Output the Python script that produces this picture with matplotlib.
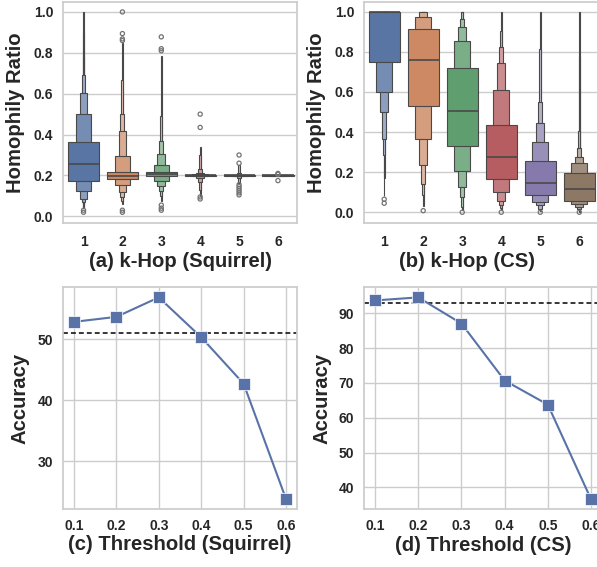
import numpy as np
import matplotlib
matplotlib.use("Agg")
import matplotlib.pyplot as plt
import matplotlib.colors as mcolors

# ---------------- data ----------------
hops = [1, 2, 3, 4, 5, 6]

# letter-value boxes, innermost (IQR) first
sq_lo = [
    [0.173, 0.122, 0.087, 0.072, 0.059, 0.048, 0.040],
    [0.184, 0.154, 0.117, 0.095, 0.077, 0.062],
    [0.198, 0.171, 0.147, 0.122, 0.098, 0.075],
    [0.198, 0.195, 0.190, 0.170, 0.130, 0.100],
    [0.1995, 0.199, 0.197, 0.190, 0.165],
    [0.1995, 0.199],
]
sq_hi = [
    [0.364, 0.501, 0.604, 0.690, 0.780, 0.900, 1.000],
    [0.219, 0.294, 0.416, 0.501, 0.669, 0.848],
    [0.215, 0.250, 0.307, 0.370, 0.490, 0.783],
    [0.203, 0.206, 0.210, 0.230, 0.300, 0.340],
    [0.2005, 0.201, 0.203, 0.210, 0.250],
    [0.2005, 0.201],
]
sq_med = [0.254, 0.198, 0.205, 0.200, 0.200, 0.200]
sq_out = [
    [0.030, 0.020],
    [1.000, 0.894, 0.868, 0.860, 0.030, 0.020],
    [0.878, 0.820, 0.810, 0.055, 0.040, 0.030],
    [0.500, 0.435, 0.095, 0.085],
    [0.300, 0.260, 0.155, 0.145, 0.135, 0.125, 0.115, 0.105],
    [0.210, 0.205, 0.175],
]

cs_lo = [
    [0.750, 0.600, 0.498, 0.365, 0.286, 0.170, 0.080],
    [0.528, 0.365, 0.237, 0.140, 0.085, 0.030],
    [0.331, 0.208, 0.128, 0.075, 0.028, 0.010],
    [0.167, 0.100, 0.058, 0.037, 0.020, 0.010],
    [0.088, 0.052, 0.034, 0.018, 0.010, 0.005],
    [0.055, 0.042, 0.028, 0.018, 0.010, 0.005, 0.003],
]
cs_hi = [
    [1.000, 1.000, 1.000, 1.000, 1.000, 1.000, 1.000],
    [0.915, 0.975, 1.000, 1.000, 1.000, 1.000],
    [0.717, 0.853, 0.925, 0.966, 1.000, 1.000],
    [0.435, 0.612, 0.742, 0.823, 0.903, 1.000],
    [0.255, 0.350, 0.445, 0.548, 0.815, 1.000],
    [0.195, 0.245, 0.275, 0.320, 0.403, 0.778, 1.000],
]
cs_med = [1.000, 0.757, 0.503, 0.275, 0.145, 0.115]
cs_out = [[0.065, 0.045], [0.008], [0.0], [0.0], [0.0], [0.0]]

thresholds = [0.1, 0.2, 0.3, 0.4, 0.5, 0.6]
acc_squirrel = [52.85, 53.67, 56.86, 50.33, 42.71, 23.8]
base_squirrel = 51.1
acc_cs = [93.66, 94.53, 87.03, 70.67, 63.75, 36.6]
base_cs = 92.8

box_colors = ["#5975A4", "#CC8963", "#5F9E6E", "#B55D60", "#857AAB", "#8D7866"]
line_color = "#5973A8"
EDGE = "#494949"

# ---------------- style ----------------
plt.rcParams.update({
    "font.family": ["Liberation Sans", "DejaVu Sans"],
    "font.weight": "bold",
    "axes.labelweight": "bold",
    "axes.edgecolor": "0.8",
    "axes.linewidth": 1.25,
    "grid.color": "0.8",
    "grid.linewidth": 1.0,
    "axes.axisbelow": True,
    "xtick.major.size": 0,
    "ytick.major.size": 0,
    "xtick.labelsize": 10,
    "ytick.labelsize": 10,
    "axes.labelsize": 14.6,
    "text.color": "0.15",
    "axes.labelcolor": "0.15",
    "xtick.color": "0.15",
    "ytick.color": "0.15",
})

W, H = 597, 567
fig = plt.figure(figsize=(W / 100, H / 100), dpi=100)


def px_axes(l, t, r, b):
    return fig.add_axes([l / W, 1 - b / H, (r - l) / W, (b - t) / H])


ax_a = px_axes(63.3, 1.7, 297.0, 222.7)
ax_b = px_axes(364.3, 1.7, 598.8, 222.7)
ax_c = px_axes(63.3, 287.3, 296.7, 509.3)
ax_d = px_axes(364.3, 287.3, 601.8, 509.3)


def draw_boxen(ax, lows, highs, meds, outs):
    white = np.array([0.96, 0.96, 0.97])
    for i in range(len(lows)):
        base = np.array(mcolors.to_rgb(box_colors[i]))
        light = 0.12 * base + 0.88 * white
        n = len(lows[i])
        for j in reversed(range(n)):
            t = 2 ** (-j / 3)
            c = light + (base - light) * t
            w = 0.8 * 2 ** (-j)
            ax.bar(i, highs[i][j] - lows[i][j], bottom=lows[i][j], width=w,
                   color=c, edgecolor=EDGE, linewidth=0.8, zorder=2)
        ax.plot([i - 0.4, i + 0.4], [meds[i], meds[i]], color=EDGE, lw=1.2,
                zorder=3, solid_capstyle="butt")
        ax.scatter([i] * len(outs[i]), outs[i], s=9, facecolor="none",
                   edgecolor="0.45", linewidth=0.9, zorder=3)
    ax.set_xticks(range(len(hops)))
    ax.set_xticklabels([str(h) for h in hops])
    ax.set_yticks([0.0, 0.2, 0.4, 0.6, 0.8, 1.0])
    ax.set_yticklabels(["0.0", "0.2", "0.4", "0.6", "0.8", "1.0"])
    ax.grid(axis="y")
    ax.grid(axis="x", visible=False)
    ax.tick_params(axis="x", pad=8.9)
    ax.tick_params(axis="y", pad=7.2)
    ax.set_ylabel("Homophily Ratio")


draw_boxen(ax_a, sq_lo, sq_hi, sq_med, sq_out)
ax_a.set_xlim(-0.52, 5.49)
ax_a.set_ylim(-0.031, 1.05)
ax_a.set_xlabel("(a) k-Hop (Squirrel)")
ax_a.xaxis.set_label_coords(0.5, -0.132)
ax_a.yaxis.set_label_coords(-0.162, 0.5)

draw_boxen(ax_b, cs_lo, cs_hi, cs_med, cs_out)
ax_b.set_xlim(-0.51, 5.50)
ax_b.set_ylim(-0.052, 1.05)
ax_b.set_xlabel("(b) k-Hop (CS)")
ax_b.xaxis.set_label_coords(0.437, -0.132)
ax_b.yaxis.set_label_coords(-0.163, 0.5)


def draw_line(ax, acc, base, yt):
    ax.plot(thresholds, acc, color=line_color, lw=1.5, marker="s", ms=8.6,
            mec="white", mew=0.5, zorder=3)
    ax.axhline(base, color="black", ls="--", lw=1.1, dashes=(3.2, 2.0), zorder=2)
    ax.set_xticks(thresholds)
    ax.set_xticklabels([f"{t:.1f}" for t in thresholds])
    ax.set_yticks(yt)
    ax.set_yticklabels([str(v) for v in yt])
    ax.grid(True)
    ax.tick_params(axis="x", pad=7.0)
    ax.tick_params(axis="y", pad=7.2)
    ax.set_ylabel("Accuracy")


draw_line(ax_c, acc_squirrel, base_squirrel, [30, 40, 50])
ax_c.set_xlabel("(c) Threshold (Squirrel)")
ax_c.xaxis.set_label_coords(0.5, -0.116)
ax_c.yaxis.set_label_coords(-0.143, 0.5)

draw_line(ax_d, acc_cs, base_cs, [40, 50, 60, 70, 80, 90])
ax_d.set_xlabel("(d) Threshold (CS)")
ax_d.xaxis.set_label_coords(0.5, -0.12)
ax_d.yaxis.set_label_coords(-0.137, 0.5)

for ax in (ax_a, ax_b, ax_c, ax_d):
    for s in ax.spines.values():
        s.set_color("0.8")
        s.set_linewidth(1.25)

fig.savefig("out.png", dpi=100)
